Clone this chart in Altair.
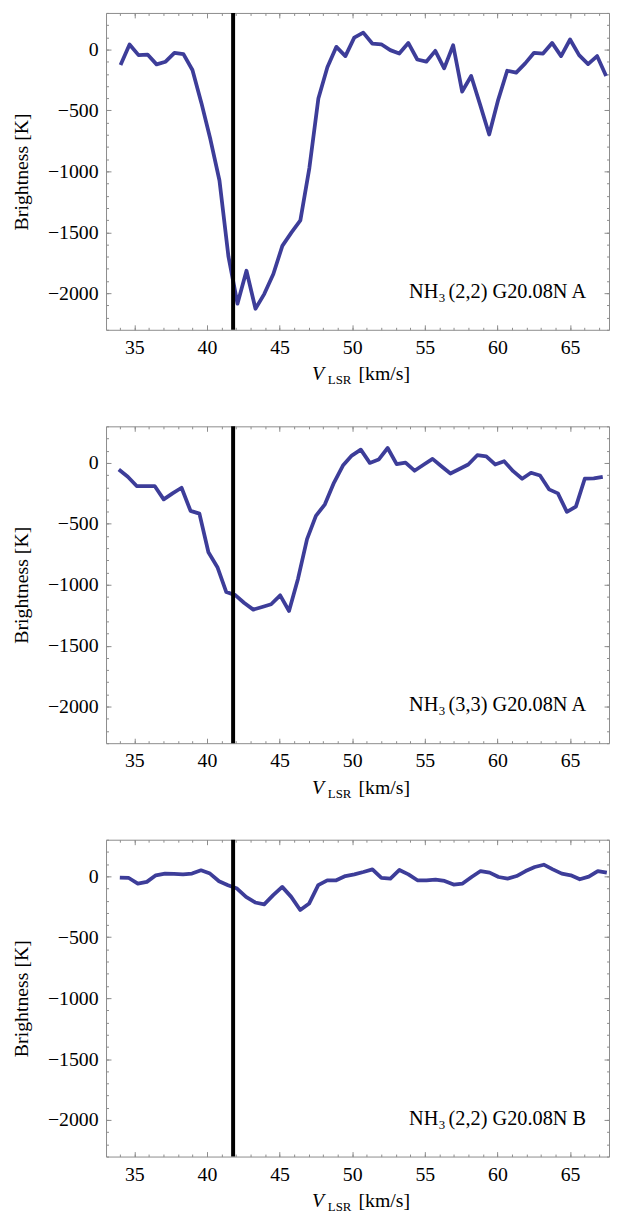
import altair as alt
import pandas as pd

# ---------------- data ----------------
v1 = [34.05, 34.67, 35.29, 35.91, 36.53, 37.15, 37.76, 38.38, 39.00, 39.62,
      40.24, 40.86, 41.48, 42.10, 42.72, 43.34, 43.95, 44.57, 45.19, 45.81,
      46.43, 47.05, 47.67, 48.29, 48.91, 49.53, 50.14, 50.76, 51.38, 52.00,
      52.62, 53.24, 53.86, 54.48, 55.10, 55.72, 56.33, 56.95, 57.57, 58.19,
      58.81, 59.43, 60.05, 60.67, 61.29, 61.91, 62.52, 63.14, 63.76, 64.38,
      65.00, 65.62, 66.24, 66.86, 67.48]
t1 = [-128, 41, -46, -41, -122, -100, -27, -38, -168, -440,
      -739, -1075, -1700, -2086, -1815, -2127, -2005, -1842, -1611, -1503,
      -1402, -973, -402, -145, 22, -54, 98, 139, 49, 43,
      -5, -33, 54, -82, -100, -11, -155, 35, -345, -217,
      -454, -698, -413, -174, -190, -114, -27, -33, 54, -54,
      82, -46, -120, -54, -217]

v2 = [33.93, 34.55, 35.16, 35.78, 36.40, 37.02, 37.63, 38.25, 38.87, 39.48,
      40.10, 40.72, 41.33, 41.95, 42.57, 43.19, 43.80, 44.42, 45.04, 45.65,
      46.27, 46.89, 47.50, 48.12, 48.74, 49.36, 49.97, 50.59, 51.21, 51.82,
      52.44, 53.06, 53.67, 54.29, 54.91, 55.53, 56.14, 56.76, 57.38, 57.99,
      58.61, 59.23, 59.84, 60.46, 61.08, 61.70, 62.31, 62.93, 63.55, 64.16,
      64.78, 65.40, 66.01, 66.63, 67.25]
t2 = [-54, -114, -190, -190, -190, -299, -250, -204, -394, -416,
      -733, -856, -1060, -1085, -1150, -1204, -1182, -1160, -1087, -1215,
      -950, -625, -435, -340, -163, -22, 60, 109, 0, 27,
      122, -10, 3, -64, -15, 33, -27, -87, -50, -13,
      63, 54, -13, 14, -68, -130, -81, -103, -217, -250,
      -402, -359, -130, -127, -114]

v3 = [34.00, 34.62, 35.24, 35.86, 36.48, 37.11, 37.73, 38.35, 38.97, 39.59,
      40.21, 40.83, 41.45, 42.07, 42.69, 43.32, 43.94, 44.56, 45.18, 45.80,
      46.42, 47.04, 47.66, 48.28, 48.90, 49.53, 50.15, 50.77, 51.39, 52.01,
      52.63, 53.25, 53.87, 54.49, 55.11, 55.74, 56.36, 56.98, 57.60, 58.22,
      58.84, 59.46, 60.08, 60.70, 61.32, 61.94, 62.57, 63.19, 63.81, 64.43,
      65.05, 65.67, 66.29, 66.91, 67.53]
t3 = [-11, -14, -60, -46, 8, 22, 19, 16, 22, 49,
      22, -41, -73, -101, -169, -215, -231, -155, -87, -169,
      -277, -223, -73, -33, -33, 2, 16, 35, 57, -14,
      -19, 52, 16, -33, -33, -27, -38, -68, -60, -6,
      43, 30, -6, -19, 2, 43, 76, 95, 57, 22,
      8, -25, -3, 43, 30]

species = ["NH", "NH", "NH"]
subscripts = ["3", "3", "3"]
labels = ["(2,2) G20.08N A", "(3,3) G20.08N A", "(2,2) G20.08N B"]
v_marker = [41.8]

x_major = [35, 40, 45, 50, 55, 60, 65]
x_minor = list(range(34, 68))
y_major = [-2000, -1500, -1000, -500, 0]
y_minor = list(range(-2300, 301, 100))
x_domain = [33.05, 67.68]
y_domain = [-2300, 300]

xtitle_parts = ["V", "LSR", "[km/s]"]
ytitle = "Brightness [K]"

W, H = 508, 320
LINE = "#3d3d99"
FRAME = "#8c8c8c"
FONT = "'Liberation Serif', 'Times New Roman', 'DejaVu Serif', serif"
MAJ, MIN = 5, 2.5


def xaxis(orient, values, size, show_labels):
    return alt.Axis(orient=orient, values=values, tickSize=size, offset=-size,
                    domain=False, grid=False, labels=show_labels, title=None,
                    tickColor=FRAME, tickWidth=1, labelFont=FONT, labelFontSize=20,
                    labelColor="black", labelPadding=8, labelFlush=False,
                    labelOverlap=False, minExtent=0, maxExtent=200)


def yaxis(orient, values, size, show_labels, title=None):
    kw = dict(orient=orient, values=values, tickSize=size, offset=-size,
              domain=False, grid=False, labels=show_labels,
              tickColor=FRAME, tickWidth=1, labelFont=FONT, labelFontSize=20,
              labelColor="black", labelPadding=8, format="d", labelOverlap=False,
              minExtent=0, maxExtent=200)
    if title:
        kw.update(title=title, titleFont=FONT, titleFontSize=20,
                  titleFontWeight="normal", titleColor="black", titleAngle=270,
                  titleBaseline="middle", titleAlign="center",
                  titleX=-90, titleY=H / 2)
    else:
        kw.update(title=None)
    return alt.Axis(**kw)


def panel(v, t, sp, sub, lab):
    df = pd.DataFrame({"v": v, "t": t})
    xs = alt.Scale(domain=x_domain, nice=False, zero=False)
    ys = alt.Scale(domain=y_domain, nice=False, zero=False)

    main = alt.Chart(df).mark_line(color=LINE, strokeWidth=3.8,
                                   strokeJoin="round").encode(
        x=alt.X("v:Q", scale=xs, axis=xaxis("bottom", x_major, MAJ, True)),
        y=alt.Y("t:Q", scale=ys, axis=yaxis("left", y_major, MAJ, True, ytitle)),
    )

    def ghost(xo, xv, xsz, yo, yv, ysz):
        return alt.Chart(df).mark_line(opacity=0, strokeJoin="round").encode(
            x=alt.X("v:Q", scale=xs, axis=xaxis(xo, xv, xsz, False)),
            y=alt.Y("t:Q", scale=ys, axis=yaxis(yo, yv, ysz, False)),
        )

    g1 = ghost("bottom", x_minor, MIN, "left", y_minor, MIN)
    g2 = ghost("top", x_major, MAJ, "right", y_major, MAJ)
    g3 = ghost("top", x_minor, MIN, "right", y_minor, MIN)

    rule = alt.Chart(pd.DataFrame({"v": v_marker})).mark_rule(
        color="black", strokeWidth=4, strokeJoin="round").encode(
        x=alt.X("v:Q", scale=xs, axis=None))

    def txt(s, x, y, size, style="normal", align="left"):
        return alt.Chart(pd.DataFrame({"s": [s]})).mark_text(
            font=FONT, fontSize=size, fontStyle=style, align=align,
            baseline="alphabetic", color="black").encode(
            text="s:N", x=alt.value(x), y=alt.value(y))

    ann = [txt(sp, 306, 288, 20.5), txt(sub, 336, 292, 13),
           txt(lab, 346, 288, 20.5)]
    xt = [txt(xtitle_parts[0], 208, 371, 20, "italic"),
          txt(xtitle_parts[1], 224, 375, 13),
          txt(xtitle_parts[2], 255, 371, 20)]

    return alt.layer(main, g1, g2, g3, rule, *ann, *xt).resolve_axis(
        x="independent", y="independent").properties(width=W, height=H)


chart = alt.vconcat(
    panel(v1, t1, species[0], subscripts[0], labels[0]),
    panel(v2, t2, species[1], subscripts[1], labels[1]),
    panel(v3, t3, species[2], subscripts[2], labels[2]),
    spacing=97.5, bounds="flush",
).properties(
    padding={"left": 3, "top": -4, "right": 0, "bottom": -8},
    background="white",
).configure(font=FONT).configure_view(stroke=FRAME, strokeWidth=1, fill="white")

chart.save("out.html", embed_options={"renderer": "svg", "actions": False})
